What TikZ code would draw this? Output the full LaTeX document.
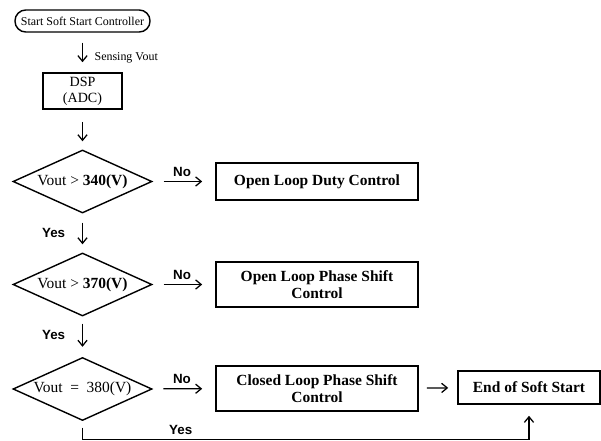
\documentclass[tikz,border=0pt]{standalone}
\usepackage{fontspec}
\setmainfont{Liberation Serif}
\setsansfont{Liberation Sans}
\usepackage{tikz}
\usetikzlibrary{arrows.meta,positioning,shapes.geometric}

\begin{document}
\begin{tikzpicture}[
    x=0.025cm, y=-0.025cm,
    >={Straight Barb[length=1.4mm,width=2.3mm]},
    font=\fontsize{11}{12.5}\selectfont,
    flow/.style={->, line width=0.9pt},
    proc/.style={draw, line width=1.1pt, align=center, minimum width=5.05cm,
                 inner sep=1pt, font=\fontsize{11}{12.5}\selectfont\bfseries},
    check/.style={draw, diamond, aspect=2.2, line width=1pt, inner sep=0pt,
                  minimum width=3.475cm, minimum height=1.575cm},
    tag/.style={font=\fontsize{9.5}{11}\selectfont\sffamily\bfseries},
    small/.style={font=\fontsize{8.5}{10}\selectfont},
  ]
  \useasboundingbox (0,0) rectangle (601,441);

  % start and sensing
  \node[draw, small, rounded corners=2.7mm, line width=1pt, minimum width=3.375cm,
        minimum height=0.55cm, inner sep=1pt] (start) at (82.5,21)
    {Start Soft Start Controller};
  \node[draw, line width=1.1pt, minimum width=1.975cm, minimum height=0.9cm, align=center,
        inner sep=1pt, font=\fontsize{10}{11.5}\selectfont] (dsp) at (82.5,91)
    {DSP\\(ADC)};

  % voltage checks
  \node[check] (chk1) at (82.5,181.5) {Vout > \textbf{340(V)}};
  \node[check] (chk2) at (82.5,284.5) {Vout > \textbf{370(V)}};
  \node[check] (chk3) at (82.5,389) {Vout\ \ =\ \ 380(V)};

  % control modes
  \node[proc, minimum height=0.925cm] (duty) at (317,181.5) {Open Loop Duty Control};
  \node[proc, minimum height=1.125cm] (olps) at (317,284.5) {Open Loop Phase Shift\\Control};
  \node[proc, minimum height=1.125cm] (clps) at (317,388.5) {Closed Loop Phase Shift\\Control};
  \node[proc, minimum width=3.55cm, minimum height=0.825cm] (done) at (529,387.5)
    {End of Soft Start};

  \coordinate (yesrun) at (82.5,439.5);

  % arrows
  \draw[flow, shorten <=2.5mm, shorten >=2.5mm] (start) -- (dsp)
    node[small, pos=0.63, right=1.7mm] {Sensing Vout};
  \draw[flow, shorten <=3mm, shorten >=2mm] (dsp) -- (chk1);
  \draw[flow, shorten <=2.25mm, shorten >=2mm] (chk1) -- (chk2)
    node[tag, midway, left=3mm] {Yes};
  \draw[flow, shorten <=1.75mm, shorten >=2.5mm] (chk2) -- (chk3)
    node[tag, pos=0.45, left=3mm] {Yes};
  \draw[flow, shorten <=2.75mm, shorten >=3.25mm] (chk1) -- (duty)
    node[tag, pos=0.47, above] {No};
  \draw[flow, shorten <=2.75mm, shorten >=3.25mm] (chk2) -- (olps)
    node[tag, pos=0.47, above] {No};
  \draw[flow, shorten <=2.75mm, shorten >=3.25mm] (chk3) -- (clps)
    node[tag, pos=0.47, above] {No};
  \draw[flow, shorten <=2mm, shorten >=2.25mm] (clps) -- (done);
  \draw[flow, shorten <=1.6mm, shorten >=2.75mm] (chk3.south) -- (yesrun)
    -| node[tag, pos=0.11, above] {Yes} (done.south);
\end{tikzpicture}
\end{document}
